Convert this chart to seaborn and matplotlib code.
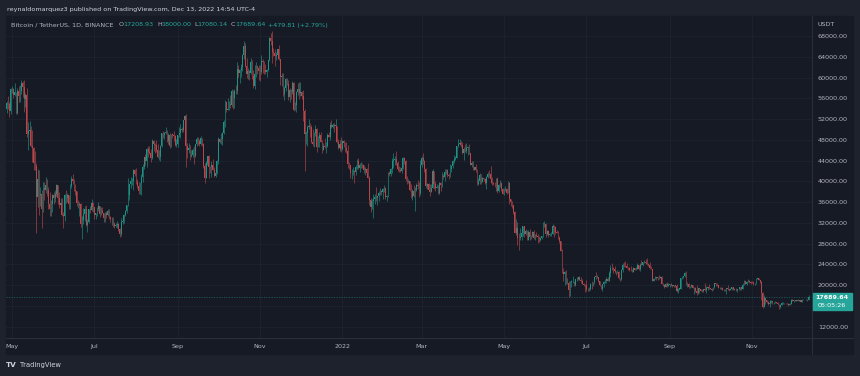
import numpy as np
import pandas as pd
import matplotlib
matplotlib.use("Agg")
import matplotlib.pyplot as plt
import matplotlib.dates as mdates
from matplotlib.patches import Rectangle
from matplotlib.lines import Line2D
import seaborn as sns

# daily BTC/USDT candles, 2021-04-24 .. 2022-12-13 (open = previous close)
start_date = "2021-04-24"
first_open = 51150

close = [
    # Apr 2021 (24-30)
    50050, 49000, 54000, 55000, 54850, 53560, 57700,
    # May 2021
    57800, 56600, 57200, 53250, 57450, 56400, 57350, 58900, 58250, 55850,
    56700, 49150, 49700, 49900, 46750, 46450, 43550, 42900, 37000, 40500,
    37300, 37500, 34700, 38800, 38300, 39300, 38400, 35700, 34600, 35650, 37300,
    # Jun 2021
    36700, 37600, 39200, 36850, 35500, 35800, 33550, 33400, 37400, 36700,
    37330, 35550, 39020, 40530, 40150, 38350, 38100, 35820, 35480, 35600,
    31680, 32500, 33680, 34640, 31640, 32160, 34660, 34500, 35900, 35040,
    # Jul 2021
    33500, 33800, 34700, 35290, 33700, 34220, 33860, 32880, 33810, 33510,
    34260, 33090, 32730, 32820, 31780, 31390, 31530, 31800, 30840, 29790,
    32140, 32290, 33590, 34290, 35390, 37270, 39460, 40000, 40020, 42240, 41460,
    # Aug 2021
    39850, 39150, 38200, 39740, 40870, 42840, 44610, 43830, 46290, 45600,
    45540, 44420, 47830, 47100, 47040, 45980, 44690, 44710, 46760, 49340,
    48870, 49290, 49530, 47700, 48970, 46850, 49070, 48900, 48800, 46990, 47130,
    # Sep 2021
    48830, 49250, 49990, 49920, 51760, 52660, 46860, 46070, 46370, 44850,
    45160, 46020, 44940, 47100, 48120, 47750, 47260, 48300, 47250, 42960,
    40600, 43560, 44880, 42810, 42710, 43200, 42170, 41030, 41520, 43820,
    # Oct 2021
    48140, 47650, 48230, 49250, 51490, 55340, 53800, 53970, 54960, 54660,
    57470, 56010, 57370, 57350, 61670, 60880, 61530, 62010, 64280, 66000,
    62210, 60690, 61290, 60850, 63080, 60330, 58450, 60590, 62250, 61880, 61300,
    # Nov 2021
    61000, 63220, 62930, 61440, 61000, 61530, 63300, 67550, 66950, 64880,
    64810, 64150, 64400, 65500, 63600, 60060, 60340, 56890, 58050, 59700,
    58660, 56280, 57570, 57160, 58960, 53730, 54720, 57270, 57800, 56950,
    # Dec 2021
    57180, 56480, 53600, 49150, 49400, 50440, 50590, 50470, 47540, 47140,
    49390, 50100, 46700, 48340, 48860, 47630, 46130, 46830, 46680, 46900,
    48900, 48590, 50820, 50400, 50780, 50700, 50700, 47540, 46460, 47120, 46200,
    # Jan 2022
    47720, 47290, 46440, 45830, 43430, 43080, 41550, 41670, 41860, 41820,
    42740, 43920, 42590, 43100, 43180, 43110, 42250, 42380, 41660, 40680,
    36450, 35070, 36280, 36650, 36960, 36810, 37160, 37720, 38170, 37920, 38480,
    # Feb 2022
    38740, 36950, 37080, 41570, 41380, 42410, 43840, 44040, 44380, 43510,
    42390, 42210, 42050, 42540, 44540, 43870, 40520, 39970, 40090, 38390,
    37020, 38230, 37250, 38330, 39210, 39100, 37700, 43160,
    # Mar 2022
    44420, 43920, 42450, 39150, 39400, 38420, 37990, 38730, 41940, 39420,
    38730, 38810, 37780, 39670, 39280, 41110, 40920, 41760, 42200, 41260,
    41000, 42360, 42890, 43960, 44310, 44500, 46820, 47130, 47430, 47060, 45510,
    # Apr 2022
    46280, 45810, 46400, 46580, 45500, 43170, 43440, 42250, 42750, 42150,
    39530, 40070, 41150, 39940, 40550, 40380, 39680, 40800, 41500, 41370,
    40480, 39710, 39470, 39450, 40430, 38110, 39240, 39740, 38600, 37630,
    # May 2022
    38470, 38530, 37750, 39690, 36550, 36010, 35470, 34040, 30100, 31010,
    29100, 29050, 29280, 30080, 31330, 29870, 30440, 28720, 30290, 29200,
    29430, 30300, 29100, 29650, 29540, 29200, 28630, 29030, 29470, 31720, 31800,
    # Jun 2022
    29800, 30450, 29700, 29860, 29910, 31370, 31130, 30200, 30110, 29090,
    28420, 26570, 22490, 22140, 22580, 20380, 20470, 19020, 20550, 20720,
    20720, 19990, 21110, 21230, 21500, 21030, 20730, 20280, 20100, 19940,
    # Jul 2022
    19260, 19240, 19300, 20230, 20180, 20550, 21630, 21590, 21590, 20850,
    19960, 19330, 20210, 20570, 20830, 21190, 20780, 22430, 23390, 23230,
    23150, 22680, 22450, 22580, 21310, 21250, 22950, 23840, 23770, 23640, 23290,
    # Aug 2022
    23270, 22980, 22820, 22620, 23310, 22950, 23170, 23810, 23150, 23950,
    23930, 24400, 24440, 24300, 24100, 23850, 23340, 23190, 20830, 21140,
    21520, 21400, 21530, 21370, 21560, 20240, 20040, 19550, 20280, 19800, 20050,
    # Sep 2022
    20130, 19950, 19830, 20000, 19800, 18790, 19290, 19320, 21360, 21650,
    21830, 22400, 20170, 20230, 19700, 19800, 20110, 19420, 19540, 18880,
    18490, 19410, 19290, 18920, 18800, 19230, 19080, 19410, 19590, 19420,
    # Oct 2022
    19310, 19060, 19620, 20340, 20160, 19960, 19530, 19420, 19450, 19140,
    19060, 19160, 19380, 19180, 19070, 19270, 19550, 19330, 19120, 19040,
    19170, 19200, 19570, 19330, 20090, 20770, 20290, 20600, 20820, 20630, 20490,
    # Nov 2022
    20480, 20160, 20210, 21150, 21300, 20910, 20590, 18540, 15880, 17590,
    17070, 16810, 16330, 16620, 16900, 16660, 16690, 16700, 16630, 16280,
    15780, 16230, 16600, 16600, 16520, 16460, 16430, 16210, 16440, 17170,
    # Dec 2022 (1-13)
    16980, 17090, 16890, 17110, 16970, 17090, 16840, 17220, 17130, 17130,
    17090, 17208.93, 17689.64,
]

high = [
    51150, 50500, 54400, 55450, 56400, 55200, 57950,
    58450, 57950, 58950, 57200, 57950, 58350, 58650, 59500, 59300, 59600,
    57000, 58000, 51400, 51550, 50700, 49800, 46600, 45800, 43550, 42450,
    42200, 38850, 38300, 39900, 39800, 40850, 40400, 38900, 37900, 36450, 37500,
    37900, 38250, 39500, 39300, 37900, 36800, 36800, 34050, 37550, 38400,
    37700, 37450, 39400, 41050, 41330, 40500, 39550, 38200, 36450, 36100,
    35750, 33300, 34880, 35300, 35500, 32700, 34750, 35300, 36600, 36100,
    35050, 33950, 35000, 35950, 35300, 35100, 35050, 33900, 34100, 34250,
    34600, 34650, 33350, 33100, 33200, 32250, 31950, 32450, 31900, 31050,
    32850, 32600, 33650, 34500, 35400, 40550, 39540, 40900, 40650, 42300, 42400,
    42600, 40450, 39800, 39950, 41400, 43400, 44700, 45300, 46450, 46750,
    46750, 46200, 48150, 48000, 47400, 48050, 47150, 46000, 47050, 49350,
    49750, 49500, 50500, 49850, 49250, 49350, 49200, 49300, 49650, 48900, 48250,
    49000, 50400, 51050, 50550, 51900, 52800, 52900, 47350, 47400, 47050,
    45950, 46450, 46850, 47250, 48450, 48500, 48150, 48800, 48350, 47350,
    43600, 44000, 44950, 45150, 42950, 43950, 44350, 42800, 42650, 44150,
    48500, 48350, 49300, 49500, 51900, 55750, 55350, 56100, 55500, 56550,
    57850, 57650, 57800, 58550, 62900, 62350, 61700, 62650, 64500, 67000,
    66650, 63750, 61750, 61500, 63700, 63300, 61500, 62450, 62950, 62300, 62400,
    62400, 64300, 63500, 63100, 62600, 61600, 63300, 67800, 68500, 69000,
    65600, 65450, 64900, 65550, 66350, 63600, 60800, 60950, 58350, 59850,
    60000, 59550, 58000, 57850, 59400, 59150, 55300, 57450, 58850, 59200,
    59050, 57400, 57600, 53900, 49700, 50900, 51950, 51200, 50800, 50100,
    49500, 50800, 50300, 48700, 49500, 49450, 47950, 47350, 48300, 47550,
    49350, 49550, 51400, 51850, 51150, 51250, 52100, 50700, 48100, 47900, 48550,
    47950, 47950, 47550, 47500, 47050, 43750, 43150, 42300, 42800, 42250,
    43100, 44350, 44450, 43450, 43800, 43500, 43200, 42700, 42600, 43500,
    41100, 36850, 36500, 37550, 37550, 38900, 37250, 38050, 38700, 38350, 38750,
    39250, 38850, 37400, 41700, 41950, 42650, 44500, 45500, 44800, 45850,
    43900, 43000, 42750, 42900, 44750, 44600, 44150, 40950, 40450, 40150,
    39500, 38450, 39250, 39000, 39700, 40300, 39850, 44200,
    44950, 45400, 44100, 42500, 39700, 39650, 39550, 39400, 42400, 42050,
    40150, 39450, 39300, 39900, 39850, 41700, 41450, 42300, 42400, 42300,
    41550, 43350, 43050, 44200, 45100, 44800, 46900, 48200, 48100, 47700, 47600,
    46700, 47200, 47450, 46900, 47200, 45500, 43900, 43950, 42800, 43400,
    42400, 40700, 41550, 41450, 40900, 40700, 40600, 41100, 41750, 42200,
    42950, 40800, 39950, 39900, 40600, 40800, 39450, 40350, 39950, 38800,
    38700, 39150, 38650, 40000, 39850, 36650, 36150, 35500, 34300, 32650,
    32150, 30050, 30950, 30350, 31400, 31300, 30800, 30650, 30550, 30750,
    29650, 30450, 30650, 29850, 30200, 29850, 29400, 29250, 29550, 32200, 32400,
    31950, 30650, 30650, 29950, 30150, 31750, 31550, 31350, 30700, 30400,
    29450, 28550, 26900, 23350, 22750, 22950, 21350, 20800, 20800, 21000,
    21700, 20850, 21200, 21500, 21600, 21850, 21500, 21200, 20400, 20150,
    20900, 19400, 19650, 20350, 20750, 20650, 21850, 22500, 21950, 21600,
    20850, 20050, 20250, 20850, 21200, 21550, 21650, 22800, 23800, 24300,
    23450, 23750, 22700, 23000, 22650, 21450, 23100, 24200, 24450, 24650, 24200,
    23500, 23450, 23650, 23200, 23450, 23350, 23400, 24250, 23900, 24200,
    24900, 24450, 24900, 25050, 25200, 24250, 24450, 23600, 23200, 21400,
    21700, 21550, 21650, 21900, 21800, 21850, 20350, 20150, 20400, 20600, 20500,
    20200, 20450, 20000, 20050, 20050, 20200, 19450, 19450, 21450, 21800,
    21850, 22500, 22800, 20550, 20400, 19900, 20200, 20100, 19700, 19650,
    19950, 19500, 19500, 19300, 19200, 19300, 20350, 19800, 19650, 20200,
    19500, 19400, 19700, 20450, 20350, 20450, 20050, 19600, 19550, 19550,
    19250, 19250, 19500, 19950, 19200, 19400, 19700, 19700, 19350, 19350,
    19250, 19250, 19700, 19600, 20400, 21000, 20850, 20750, 21100, 20900, 20850,
    20700, 20800, 20400, 21300, 21450, 21350, 21000, 20700, 18600, 18150,
    17650, 17100, 16950, 17200, 17150, 17000, 16750, 17000, 16800, 16700,
    16300, 16300, 16700, 16800, 16600, 16650, 16600, 16500, 16550, 17250,
    17300, 17100, 17150, 17200, 17400, 17100, 17150, 17300, 17350, 17200,
    17250, 17250, 18000.00,
]

low = [
    48800, 47000, 48800, 53200, 53900, 52350, 53050,
    57050, 56000, 56450, 53050, 52900, 55250, 55300, 56900, 56250, 53400,
    54350, 48600, 46000, 48800, 46600, 43800, 42100, 42200, 30000, 35000,
    33500, 35200, 31100, 34000, 36400, 37800, 37200, 34700, 33400, 33400, 34150,
    35650, 35950, 37200, 35600, 34800, 35250, 33350, 31000, 32400, 35800,
    35950, 34600, 34750, 38750, 39500, 38100, 37400, 35150, 34800, 33350,
    31250, 28800, 31700, 32300, 31300, 30150, 32000, 33850, 34250, 34000,
    32700, 32700, 33300, 34350, 33150, 33550, 33800, 32100, 32250, 33000,
    33300, 32700, 32200, 31600, 31150, 31050, 31150, 31100, 30400, 29300,
    29500, 31700, 32000, 33400, 33850, 35200, 36400, 38800, 39200, 38300, 41000,
    39450, 38700, 37650, 37500, 37350, 39900, 42450, 43100, 42800, 44700,
    45350, 43800, 44250, 45850, 45500, 45650, 44400, 44200, 43950, 46650,
    48300, 48100, 49050, 47600, 47150, 46350, 46550, 48400, 47800, 46900, 46700,
    46550, 48600, 48350, 49450, 49500, 50950, 42800, 44400, 45500, 44150,
    44750, 44750, 43370, 44680, 46750, 47050, 46750, 47050, 46850, 42500,
    39600, 40550, 43100, 40700, 41650, 40750, 42100, 40850, 40800, 41400,
    43300, 47350, 47100, 46950, 49050, 50400, 53350, 53650, 53700, 54100,
    54400, 53900, 54200, 56800, 56850, 60150, 58950, 60150, 61300, 63500,
    62000, 60000, 59650, 59500, 60650, 59800, 58000, 57800, 60150, 60700, 59600,
    59400, 60650, 60950, 60650, 60750, 60100, 61350, 63100, 66350, 62800,
    64100, 62300, 63350, 63550, 63350, 58600, 58400, 56500, 55600, 57350,
    58500, 55600, 55300, 55850, 56900, 53500, 53650, 53300, 56700, 55900,
    56450, 55850, 51700, 42000, 47100, 46900, 50050, 48600, 47300, 46850,
    46700, 48650, 45700, 46550, 46550, 47500, 45500, 45950, 46400, 45550,
    46650, 48450, 48050, 50350, 50200, 49550, 50450, 47300, 46150, 45900, 45700,
    46000, 46700, 45700, 45500, 42500, 42450, 40600, 40500, 41200, 39650,
    41300, 42450, 42300, 41750, 42600, 42600, 41550, 41300, 41100, 40550,
    35450, 34000, 34600, 32950, 35700, 36250, 35500, 36150, 37300, 37350, 36650,
    38000, 36600, 36250, 36950, 40950, 41100, 41650, 42650, 43100, 43200,
    42000, 41750, 41850, 41550, 42450, 43300, 40050, 39450, 39650, 38050,
    36800, 36350, 37050, 34300, 38050, 38600, 37000, 37450,
    42800, 43350, 41850, 38650, 38600, 38100, 37150, 37850, 38650, 38550,
    38200, 38650, 37600, 37550, 38100, 38850, 40500, 40150, 41500, 40900,
    40500, 40900, 41750, 42600, 43600, 44100, 44400, 46650, 46950, 46550, 45200,
    44200, 45650, 45550, 45100, 45350, 43100, 42750, 42100, 42100, 41850,
    39200, 39250, 39550, 39550, 39800, 40000, 39550, 38550, 40550, 40800,
    39750, 39200, 39300, 38900, 38200, 37700, 37900, 38850, 38200, 37600,
    37400, 38050, 37500, 37700, 35550, 35250, 34800, 33700, 30050, 29750,
    27800, 26700, 28750, 28650, 29500, 29200, 29700, 28650, 28700, 28750,
    28950, 29250, 28900, 28650, 29300, 28050, 28250, 28500, 28850, 29300, 31200,
    29300, 29600, 29350, 29450, 29500, 29900, 29200, 29850, 29950, 28850,
    28100, 26550, 22300, 20850, 20100, 20250, 20300, 17620, 17950, 19650,
    20350, 19800, 19900, 20750, 20900, 20950, 20500, 20150, 19850, 18650,
    18950, 18950, 18800, 19050, 19300, 19750, 20250, 21200, 21300, 20650,
    19900, 19250, 18900, 19600, 20400, 20500, 20750, 20750, 21600, 23000,
    22300, 22350, 21950, 22250, 21250, 20700, 21050, 22600, 23450, 23500, 23250,
    22850, 22650, 22700, 22450, 22600, 22900, 22850, 23150, 22900, 22700,
    23900, 23600, 24300, 24150, 23800, 23700, 23200, 23100, 20800, 20750,
    21100, 20900, 20900, 21150, 21350, 20150, 19800, 19500, 19550, 19550, 19800,
    19550, 19750, 19650, 19600, 19650, 18650, 18550, 19000, 19300, 21100,
    21350, 21550, 20050, 19650, 19500, 19350, 19700, 19350, 18250, 18750,
    18150, 18350, 18550, 18800, 18650, 18700, 18850, 18470, 19100, 19200,
    19200, 18950, 19000, 19500, 19750, 19850, 19350, 19300, 19300, 19050,
    18850, 18950, 18200, 19100, 18950, 19050, 19150, 19100, 19000, 18900,
    18650, 19100, 19100, 19150, 19250, 20050, 20200, 20000, 20550, 20500, 20250,
    20350, 20050, 20050, 20200, 21100, 20900, 20400, 17150, 15600, 15750,
    16350, 16550, 16250, 15800, 16550, 16400, 16400, 16550, 16550, 16200,
    15480, 15600, 16150, 16450, 16300, 16400, 16400, 15950, 16100, 16400,
    16850, 16800, 16850, 16850, 16900, 16900, 16700, 16750, 17100, 17100,
    17050, 16850, 17080.14,
]

month_ticks = ["2021-05-01", "2021-07-01", "2021-09-01", "2021-11-01", "2022-01-01",
               "2022-03-01", "2022-05-01", "2022-07-01", "2022-09-01", "2022-11-01"]
month_labels = ["May", "Jul", "Sep", "Nov", "2022", "Mar", "May", "Jul", "Sep", "Nov"]
price_ticks = list(range(12000, 68001, 4000))

last_close = 17689.64
countdown = "05:05:26"

UP = "#1f9286"
DOWN = "#b8464a"
BOX = "#26a69a"
BG = "#1e222d"
PANEL = "#161a25"
GRID = "#1f2330"
BORDER = "#2a2e39"
TXT = "#b2b5be"

sns.set_theme(style="dark", rc={"axes.facecolor": PANEL, "figure.facecolor": BG})
plt.rcParams["font.family"] = ["DejaVu Sans"]

df = pd.DataFrame({"close": close, "high": high, "low": low},
                  index=pd.date_range(start_date, periods=len(close), freq="D"))
df["open"] = np.r_[first_open, df["close"].values[:-1]]
x = mdates.date2num(df.index.to_pydatetime())
up = df["close"].values >= df["open"].values
cols = np.where(up, UP, DOWN)

W, H = 860, 376
fx = lambda px: px / W
fy = lambda py: 1 - py / H

fig = plt.figure(figsize=(8.6, 3.76), dpi=100)
fig.patch.set_facecolor(BG)
fig.patches.append(Rectangle((fx(6), fy(354)), (853 - 6) / W, (354 - 16) / H,
                             transform=fig.transFigure, color=PANEL, zorder=-5))

ax = fig.add_axes([fx(6), fy(338), (812 - 6) / W, (338 - 16) / H])
ax.set_zorder(1)
ax.set_facecolor(PANEL)

ax.vlines(x, df["low"], df["high"], colors=cols, lw=0.45, zorder=3)
body = np.abs(df["close"] - df["open"]).clip(lower=80)
ax.bar(x, body, bottom=np.minimum(df["open"], df["close"]), width=0.6,
       color=cols, linewidth=0, zorder=4)

ax.axhline(last_close, color=BOX, lw=0.6, ls=(0, (1.5, 1.5)), alpha=0.45, zorder=2)

may1 = mdates.date2num(pd.Timestamp("2021-05-01"))
ax.set_xlim(may1 - 4.45, may1 + 593.5)
ax.set_ylim(9811, 71853)

ax.set_xticks(mdates.date2num(pd.to_datetime(month_ticks)))
ax.set_xticklabels(month_labels)
ax.set_yticks(price_ticks)
ax.set_yticklabels(["" if p == 16000 else f"{p:.2f}" for p in price_ticks])
ax.yaxis.tick_right()
ax.tick_params(axis="both", length=0, labelsize=4.6, colors=TXT)
ax.tick_params(axis="y", pad=4.3)
ax.tick_params(axis="x", pad=4.5)
ax.grid(True, color=GRID, lw=0.6)
for s in ax.spines.values():
    s.set_visible(False)

# axis borders
fig.add_artist(Line2D([fx(6), fx(853)], [fy(338), fy(338)], color=BORDER, lw=0.8, zorder=2))
fig.add_artist(Line2D([fx(812), fx(812)], [fy(16), fy(354)], color=BORDER, lw=0.8, zorder=2))

# last price label
fig.patches.append(Rectangle((fx(812.5), fy(310)), 39.5 / W, 17 / H,
                             transform=fig.transFigure, color=BOX, zorder=5))
fig.text(fx(832), fy(297.5), f"{last_close:.2f}", ha="center", va="center",
         color="white", fontsize=4.6, fontweight="bold", zorder=6)
fig.text(fx(832), fy(305.5), countdown, ha="center", va="center",
         color="white", fontsize=4.6, zorder=6)

fig.text(fx(818), fy(24), "USDT", va="center", color=TXT, fontsize=4.6)

# header texts
fig.text(fx(7), fy(9.5), "reynaldomarquez3 published on TradingView.com, Dec 13, 2022 14:54 UTC-4",
         va="center", color="#d1d4dc", fontsize=4.6)
fig.text(fx(11), fy(25), "Bitcoin / TetherUS, 1D, BINANCE", va="center", color=TXT, fontsize=4.6,
         zorder=6)
legend_parts = [(119, "O", TXT), (123.5, "17208.93", BOX), (157, "H", TXT), (161, "18000.00", BOX),
                (194, "L", TXT), (197.5, "17080.14", BOX), (231, "C", TXT), (235, "17689.64", BOX),
                (268, "+479.81 (+2.79%)", BOX)]
for px, s, c in legend_parts:
    fig.text(fx(px), fy(25), s, va="center", color=c, fontsize=4.6, zorder=6)

# footer
fig.text(fx(6), fy(365), "TV", va="center", color="#d1d4dc", fontsize=5.2, fontweight="heavy")
fig.text(fx(20), fy(365), "TradingView", va="center", color="#d1d4dc", fontsize=4.9)

fig.savefig("out.png", dpi=100, facecolor=BG)
